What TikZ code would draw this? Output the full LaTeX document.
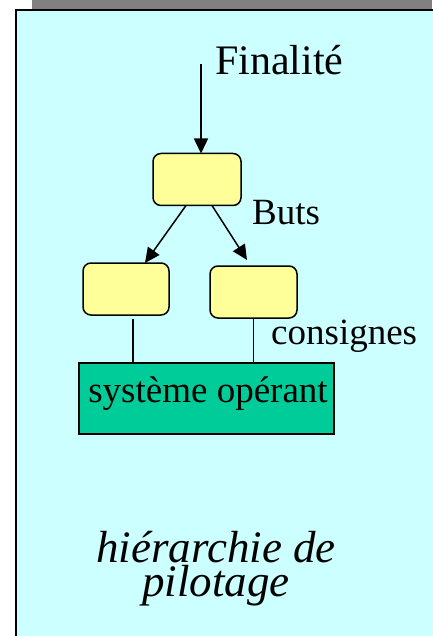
\documentclass[tikz,border=0pt]{standalone}
\usepackage{fontspec}
\setmainfont{Liberation Serif}
\usetikzlibrary{arrows.meta,calc}
\definecolor{panelcyan}{HTML}{CCFFFF}
\definecolor{boxyellow}{HTML}{FFFF99}
\definecolor{opgreen}{HTML}{00CC99}
\definecolor{bandgray}{HTML}{808080}
\begin{document}
\begin{tikzpicture}[x=1pt,y=-1pt,
  ctrlbox/.style={draw=black,line width=1.5pt,fill=boxyellow,rounded corners=8pt,
    inner sep=0pt,outer sep=0pt,minimum height=52pt},
  opbox/.style={draw=black,line width=2pt,fill=opgreen,inner sep=0pt,outer sep=0pt,
    minimum width=255pt,minimum height=71pt},
  arr/.style={line width=1.5pt,-{Triangle[length=15pt,width=14pt]}},
  link/.style={line width=1.5pt},
  lbl/.style={inner sep=0pt,anchor=base west,font=\fontsize{37}{40}\selectfont},
  title/.style={inner sep=0pt,align=center,font=\fontsize{45}{34}\selectfont\itshape}]
\useasboundingbox (0,0) rectangle (432,636);
% panel behind
\fill[bandgray] (32,0) rectangle (432,10);
\fill[panelcyan] (16,10) rectangle (440,646);
\draw[line width=2pt] (16,646) -- (16,10) -- (440,10);
% control hierarchy
\node[ctrlbox,minimum width=88pt] (top) at (197,179.5) {};
\node[ctrlbox,minimum width=86pt] (lb) at (126,289) {};
\node[ctrlbox,minimum width=87pt] (rb) at (253.5,292) {};
\node[opbox] (sys) at (206.5,398.5) {};
\node[lbl,anchor=base] (systxt) at (208,402) {système opérant};
% labels
\node[lbl,font=\fontsize{42}{44}\selectfont] (fin) at (215,75) {Finalité};
\node[lbl] (buts) at (252,224) {Buts};
\node[lbl] (cons) at (271,344) {consignes};
\node[title] (caption) at (216,568.5) {hiérarchie de\\pilotage};
% connectors
\coordinate (fstart) at (201,64);
\draw[arr] (fstart) -- (fstart |- top.north);
\draw[arr] ([xshift=-11pt]top.south) -- ([xshift=19pt]lb.north);
\draw[arr] ([xshift=15pt]top.south) -- ([xshift=-6.5pt,yshift=6pt]rb.north);
\coordinate (l1) at ([xshift=7pt,yshift=-4pt]lb.south);
\draw[link] (l1) -- (l1 |- sys.north);
\draw[link] (rb.south) -- (rb.south |- sys.north);
\end{tikzpicture}
\end{document}
